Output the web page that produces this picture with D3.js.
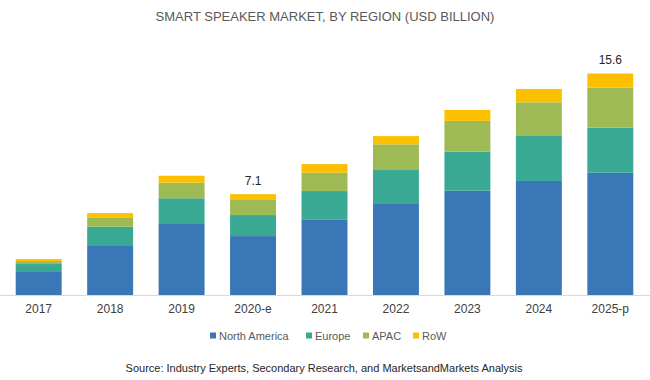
<!DOCTYPE html>
<html>
<head>
<meta charset="utf-8">
<script src="https://cdn.jsdelivr.net/npm/d3@7"></script>
<style>
  html, body { margin: 0; padding: 0; background: #fff; }
  svg { display: block; font-family: "Liberation Sans", Arial, sans-serif; }
</style>
</head>
<body>
<svg id="chart" width="650" height="380"></svg>
<script>
const categories = ["2017", "2018", "2019", "2020-e", "2021", "2022", "2023", "2024", "2025-p"];
const seriesNames = ["North America", "Europe", "APAC", "RoW"];
const northAmerica = [1.62, 3.45, 5.00, 4.15, 5.33, 6.41, 7.35, 8.03, 8.61];
const europe       = [0.56, 1.36, 1.81, 1.48, 1.99, 2.39, 2.75, 3.17, 3.17];
const apac         = [0.21, 0.66, 1.10, 1.06, 1.29, 1.81, 2.16, 2.37, 2.82];
const row          = [0.14, 0.30, 0.49, 0.41, 0.61, 0.58, 0.77, 0.94, 1.00];
const totalLabels  = {"2020-e": "7.1", "2025-p": "15.6"};
const colors = ["#3a77b7", "#39a993", "#9eba55", "#fcc000"];

const svg = d3.select("#chart");
const W = 650, H = 380;

const data = categories.map((c, i) => ({
  cat: c,
  "North America": northAmerica[i],
  "Europe": europe[i],
  "APAC": apac[i],
  "RoW": row[i]
}));
const stacked = d3.stack().keys(seriesNames)(data);

const x = d3.scaleBand().domain(categories).range([3, 646]).paddingInner(0.357).paddingOuter(0.178);
const y = d3.scaleLinear().domain([0, 16]).range([295, 67.8]);

// Title
svg.append("text").attr("x", 325).attr("y", 21).attr("text-anchor", "middle")
  .attr("font-size", 13).attr("fill", "#595959").text("SMART SPEAKER MARKET, BY REGION (USD BILLION)");

// Bars
svg.append("g").selectAll("g").data(stacked).join("g")
  .attr("fill", (d, i) => colors[i])
  .selectAll("rect").data(d => d).join("rect")
  .attr("x", d => x(d.data.cat))
  .attr("width", x.bandwidth())
  .attr("y", d => y(d[1]))
  .attr("height", d => y(d[0]) - y(d[1]));

// Axis
const xAxis = d3.axisBottom(x).tickSize(0).tickPadding(9);
const gx = svg.append("g").attr("transform", `translate(0,${y(0)})`).call(xAxis);
gx.select(".domain").attr("stroke", "#d9d9d9").attr("stroke-width", 1.2).attr("d", "M0,0.5H650");
gx.selectAll("text").attr("font-size", 12).attr("fill", "#404040")
  .attr("font-family", "'Liberation Sans', Arial, sans-serif");

// Total labels
const last = stacked[stacked.length - 1];
svg.append("g").selectAll("text")
  .data(last.filter(d => totalLabels[d.data.cat]))
  .join("text")
  .attr("x", d => x(d.data.cat) + x.bandwidth() / 2)
  .attr("y", d => y(d[1]) - 9)
  .attr("text-anchor", "middle").attr("font-size", 12).attr("fill", "#262626")
  .text(d => totalLabels[d.data.cat]);

// Legend
const legendX = [210, 306, 363, 413];
const lg = svg.append("g").selectAll("g").data(seriesNames).join("g")
  .attr("transform", (d, i) => `translate(${legendX[i]},336)`);
lg.append("rect").attr("x", 0).attr("y", -3.5).attr("width", 6).attr("height", 6)
  .attr("fill", (d, i) => colors[i]);
lg.append("text").attr("x", 9).attr("y", 4).attr("font-size", 11).attr("fill", "#595959").text(d => d);

// Source
svg.append("text").attr("x", 324).attr("y", 372).attr("text-anchor", "middle")
  .attr("font-size", 11).attr("fill", "#262626")
  .text("Source: Industry Experts, Secondary Research, and MarketsandMarkets Analysis");
</script>
</body>
</html>
